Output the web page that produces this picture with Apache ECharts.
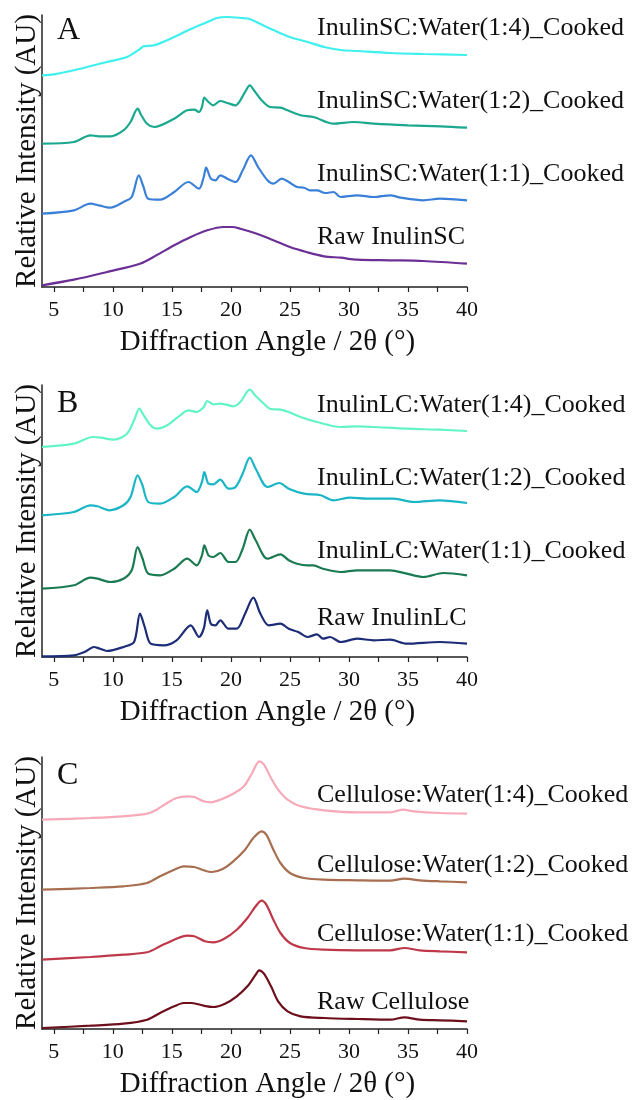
<!DOCTYPE html>
<html><head><meta charset="utf-8">
<script src="https://cdn.jsdelivr.net/npm/echarts@6/dist/echarts.min.js"></script>
<style>html,body{margin:0;padding:0;background:#fff}#c{width:636px;height:1100px}</style>
</head><body><div id="c"></div>
<script>
// ---- tick labels ----
const xLabelValues = [5, 10, 15, 20, 25, 30, 35, 40];
const xTickValues = [5, 7.5, 10, 12.5, 15, 17.5, 20, 22.5, 25, 27.5, 30, 32.5, 35, 37.5, 40];
const xTitle = 'Diffraction Angle / 2θ (°)';
const yTitle = 'Relative Intensity (AU)';
const panelLetters = ['A', 'B', 'C'];

// ---- series names ----
const namesA = ['InulinSC:Water(1:4)_Cooked', 'InulinSC:Water(1:2)_Cooked', 'InulinSC:Water(1:1)_Cooked', 'Raw InulinSC'];
const namesB = ['InulinLC:Water(1:4)_Cooked', 'InulinLC:Water(1:2)_Cooked', 'InulinLC:Water(1:1)_Cooked', 'Raw InulinLC'];
const namesC = ['Cellulose:Water(1:4)_Cooked', 'Cellulose:Water(1:2)_Cooked', 'Cellulose:Water(1:1)_Cooked', 'Raw Cellulose'];

// ---- Panel A (offset stacked intensities, AU) ----
const A14_x = [4.0,5,6.7,9.5,11.2,12.3,12.6,13.5,15.2,16.6,18,18.8,19.7,20.9,21.6,22.5,23.6,25,26.5,27.9,29.3,30.7,33.5,36.3,40];
const A14_y = [211.7,212.7,216.7,225,230,238,240.7,241.7,250,258,265,269,270,269,268,263,257,250,245,240,237,236,234,233,232];
const A12_x = [4,6.7,8.1,8.8,9.8,10.9,11.5,12.1,12.4,12.9,13.5,15.2,16.3,16.9,17.3,17.55,17.75,18.1,18.5,19.1,19.7,20.4,20.8,21.2,21.6,22.0,22.6,23.3,24.2,24.8,25.9,27,28.7,30.4,32.1,35,37.8,40];
const A12_y = [143.3,145,151.7,150.7,150.7,156.7,165,178.3,172,163.3,160,168.3,176.7,177.3,175,180,189.3,185,181.7,186,184,181.7,186.7,195,201.7,196,186.7,180,179.3,176.7,171.7,170,163.3,165,163.3,161.7,160.7,159.3];
const A11_x = [4,6.7,8.1,8.8,9.8,10.9,11.6,12.2,12.6,13.0,14.0,15.2,16.4,17.3,17.7,17.9,18.3,18.7,19.1,19.7,20.4,21.0,21.7,22.3,23.1,23.6,24.3,24.9,25.6,26.2,26.7,27.3,28.0,28.7,29.3,30.7,32.1,33.5,34.4,36.3,37.7,40];
const A11_y = [73.3,76.7,83.3,81.7,79.3,85,90,111.7,100,88.3,87.3,95,105,98.3,110,119.3,108.3,106.7,111.7,108.3,105,116.7,131.7,120,106.7,103.3,108.3,105,100,99.3,96.7,96.7,94,95,90,91.7,90,91.7,89.3,86.7,88.3,86.7];
const ARaw_x = [4,6.7,9.5,12.3,13.7,15.2,16.6,18,19.4,20.1,20.8,22.2,23.6,25,26.4,27.9,29.3,30.7,33.5,36.3,40];
const ARaw_y = [1.7,7.3,15,23.3,31.7,41.7,50,56.7,60,60,58.3,53.3,46.7,40,35,30.7,29.3,27.3,26.7,26,23.3];

// ---- Panel B ----
const B14_x = [4,6.7,8.3,9.0,10.1,11.2,11.8,12.25,12.6,13.2,13.7,14.6,15.7,16.4,17.1,17.7,18.0,18.5,19.1,19.5,20.2,20.8,21.6,22.1,22.8,23.3,24.2,24.9,25.9,27.3,29.3,30.7,32.1,34.9,37.7,40];
const B14_y = [210,213.3,220,219.3,217.3,223.3,236.7,248.3,242,231.7,228.3,231.7,241.7,246.7,245,250,256,252.7,253.3,252.7,250.7,255,267.3,261,253.3,248.3,247.3,245,240,235,230,230.7,230,228.3,227.3,226];
const B12_x = [4,6.7,8.1,8.7,9.7,10.9,11.5,12.1,12.5,13.0,14.0,15.2,16.3,17.1,17.55,17.75,18.1,18.5,19.1,19.8,20.4,21.0,21.6,22.1,23.1,24.1,24.9,26.2,27.6,28.7,30.1,31.5,33.8,35.5,37.7,40];
const B12_y = [141.7,145,151.7,150.7,146.7,151.7,160,181.7,172,155,153.3,160,170.7,165,175,185,173.3,172.7,177.3,168.3,170,183.3,199.3,188.3,170,174,168.3,163.3,161.7,156.7,159.3,158.3,158.3,155,156.7,154];
const B11_x = [4,6.7,8.1,8.7,9.8,10.9,11.6,12.1,12.5,13.0,14.0,15.2,16.3,17.1,17.55,17.75,18.1,18.5,19.1,19.8,20.4,21.0,21.6,22.1,23.1,24.2,24.9,25.6,26.5,27.0,27.8,29.3,30.7,33.5,34.9,36.3,38.0,40];
const B11_y = [68.3,71.7,79.3,78.3,75,78.3,86.7,110,99,83.3,81.7,88.3,98.3,91.7,101.7,111.7,101.7,100,104,95,95,108.3,127.3,116.7,98.3,102.7,96.7,93.3,91.7,91.7,88.3,85,86.7,86.7,83.3,80,84,81.7];
const BRaw_x = [4,6.7,7.6,8.4,8.9,9.5,10.9,11.8,12.3,12.7,13.2,14.3,15.4,16.6,17.3,17.7,18.0,18.3,18.7,19.1,19.8,20.5,21.2,21.9,22.5,23.2,24.2,24.9,25.7,26.5,27.3,27.8,28.4,29.3,30.7,32.1,33.5,34.9,37.7,40];
const BRaw_y = [0.7,1.7,5,10,8.3,6,10,15,43.3,30,13.3,11.7,16.7,31.7,20,28.3,46.7,33.3,31.7,36.7,28.3,28.3,43.3,59.3,43.3,31.7,33.3,28.3,25,20,22.7,18.3,20,15,18.3,16.7,17.3,13.3,15,13.3];

// ---- Panel C ----
const C14_x = [4,8.1,10.9,12.9,13.7,14.6,15.4,16.3,16.9,17.7,18.3,19.1,20.2,21.1,21.8,22.4,22.8,23.4,24.0,24.8,25.9,27.9,30.7,33.5,34.6,35.5,37.7,40];
const C14_y = [209.3,211,212.7,215.3,219.3,226,231,232.7,232,227.7,226.7,229.3,235.3,242.7,256,267.7,264.3,251,239.3,229.3,222.7,218.7,216.7,216.7,219.3,217.7,216,215.3];
const C12_x = [4,8.1,10.9,12.9,14.0,15.2,16.0,16.9,17.7,18.4,19.3,20.2,21.2,21.9,22.6,23.0,23.6,24.2,25.0,26.2,27.9,30.7,33.5,34.7,36.0,37.7,40];
const C12_y = [139.3,141,142.7,146,152.7,159.3,162.7,162,158.7,157,160,167.7,179.3,191,197.7,194.3,179.3,166,156,151,149.3,148.7,148.3,150.3,148.7,147.7,146.7];
const C11_x = [4,8.1,10.9,12.9,14.0,15.2,16.3,16.9,17.8,18.5,19.4,20.5,21.4,22.1,22.6,23.0,23.6,24.2,25.0,26.2,27.9,30.7,33.5,34.7,36.0,37.7,40];
const C11_y = [69.3,72,74.3,76.7,82.7,89.3,93.3,92.7,87.7,86.7,90,99.3,111,122.7,128.3,124.3,109.3,96,86,81,79.3,78.7,78.7,81,78.7,77.7,76.7];
const CRaw_x = [4,8.1,10.9,12.9,14.0,15.2,16.0,16.7,17.7,18.5,19.5,20.5,21.4,22.1,22.4,22.8,23.4,24.0,24.8,25.9,27.9,30.7,33.5,34.7,36.0,37.7,40];
const CRaw_y = [1,3.3,5.3,9.3,16,22.7,26,26,23.3,22,25.3,32.7,42.7,54.3,58.7,55.3,42.7,27.7,17.7,12.7,11,10,9.3,11.7,9.3,8.7,7.7];

// ---- styling / layout (not data) ----
const FONT = '"Liberation Serif", "Times New Roman", serif';
const panels = [
  { names: namesA, xs: [A14_x, A12_x, A11_x, ARaw_x], ys: [A14_y, A12_y, A11_y, ARaw_y],
    colors: ['#3ff0ee', '#1aa88e', '#3a80d8', '#6b2f95'], axisY: 287, labelY: [28, 101, 174, 237], letterY: 31 },
  { names: namesB, xs: [B14_x, B12_x, B11_x, BRaw_x], ys: [B14_y, B12_y, B11_y, BRaw_y],
    colors: ['#62f4c6', '#1ab6c6', '#1a7b52', '#1c2c76'], axisY: 657, labelY: [405, 478, 551, 618], letterY: 404 },
  { names: namesC, xs: [C14_x, C12_x, C11_x, CRaw_x], ys: [C14_y, C12_y, C11_y, CRaw_y],
    colors: ['#f7a9b9', '#a76e4f', '#bf3849', '#6d0f1a'], axisY: 1029, labelY: [795, 865, 934, 1002], letterY: 776 }
];
const YMAX = 272;
const grids = [], xAxes = [], yAxes = [], series = [], graphics = [];
panels.forEach((p, i) => {
  grids.push({ left: 42, right: 169, top: p.axisY - YMAX, height: YMAX });
  xAxes.push({
    gridIndex: i, type: 'value', min: 4, max: 40,
    axisLine: { onZero: false, lineStyle: { color: '#222', width: 1.5 } },
    axisTick: { customValues: xTickValues, length: 5, lineStyle: { color: '#222', width: 1.2 } },
    axisLabel: { customValues: xLabelValues, fontFamily: FONT, fontSize: 22, color: '#111', margin: 12 },
    splitLine: { show: false },
    name: xTitle, nameLocation: 'middle', nameGap: 41,
    nameTextStyle: { fontFamily: FONT, fontSize: 29, color: '#111', padding: [0, 0, 0, 26] }
  });
  yAxes.push({
    gridIndex: i, type: 'value', min: 0, max: YMAX,
    axisLine: { show: true, onZero: false, lineStyle: { color: '#222', width: 1.5 } },
    axisTick: { show: false }, axisLabel: { show: false }, splitLine: { show: false },
    name: yTitle, nameLocation: 'middle', nameRotate: 90, nameGap: 0,
    nameTextStyle: { fontFamily: FONT, fontSize: 29, color: '#111' }
  });
  p.names.forEach((nm, k) => {
    series.push({
      type: 'line', name: nm, xAxisIndex: i, yAxisIndex: i,
      data: p.xs[k].map((x, j) => [x, p.ys[k][j]]),
      showSymbol: false, smooth: 0.3, clip: false,
      lineStyle: { color: p.colors[k], width: 2.2 }
    });
    graphics.push({ type: 'text', x: 317, y: p.labelY[k],
      style: { text: nm, fontFamily: FONT, fontSize: 26, fill: '#111', align: 'left', verticalAlign: 'middle' } });
  });
  graphics.push({ type: 'text', x: 57, y: p.letterY,
    style: { text: panelLetters[i], fontFamily: FONT, fontSize: 32, fill: '#111', align: 'left', verticalAlign: 'middle' } });
});

const chart = echarts.init(document.getElementById('c'), null, { renderer: 'canvas' });
chart.setOption({
  animation: false, backgroundColor: '#fff',
  grid: grids, xAxis: xAxes, yAxis: yAxes, series: series, graphic: graphics
});
</script>
</body></html>
